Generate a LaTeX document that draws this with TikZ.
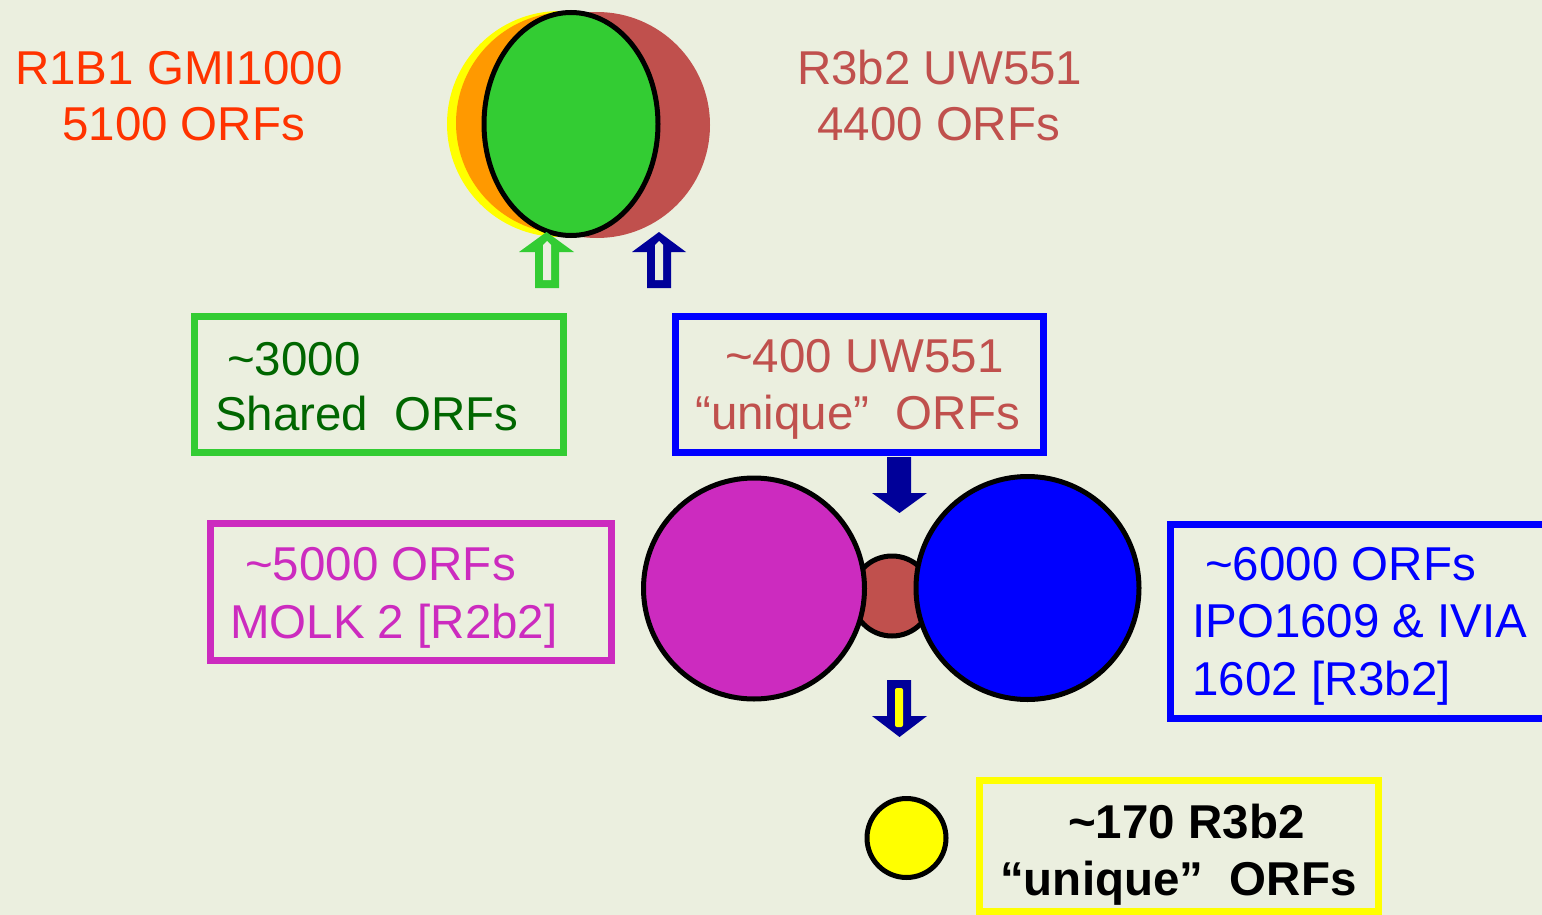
\documentclass[tikz,border=0pt]{standalone}
\usepackage{fontspec}
\setmainfont{Liberation Sans}
\usetikzlibrary{shapes.geometric}
\definecolor{bg}{RGB}{235,239,223}
\definecolor{orangered}{RGB}{255,51,0}
\definecolor{brick}{RGB}{192,80,77}
\definecolor{lgreen}{RGB}{51,204,51}
\definecolor{dgreen}{RGB}{0,102,0}
\definecolor{navy}{RGB}{0,0,153}
\definecolor{magentaF}{RGB}{204,43,191}
\definecolor{orangeF}{RGB}{255,153,0}
\definecolor{yel}{RGB}{255,255,0}
\definecolor{blu}{RGB}{0,0,255}
\begin{document}
\begin{tikzpicture}[x=1pt,y=-1pt,
  lbl/.style={font=\fontsize{47.5}{56}\selectfont, inner sep=0pt, anchor=base west},
  frame/.style={line width=7pt, inner sep=0pt, fill=none},
  ring/.style={circle, draw=black, line width=5pt, inner sep=0pt}]
\useasboundingbox (0,0) rectangle (1542,915);
\fill[bg] (0,0) rectangle (1542,915);
\clip (0,0) rectangle (1542,915);

% top overlapping circles
\fill[yel] (560,124) circle[radius=113pt];
\fill[orangeF] (567,123) circle[radius=111pt];
\fill[brick] (597,125) circle[radius=113pt];
\node[ellipse, draw=black, line width=5pt, fill=lgreen, minimum width=174pt, minimum height=223pt, inner sep=0pt] (shared) at (571,124) {};

% top labels
\node[lbl, text=orangered] (gmiA) at (15,85) {R1B1 GMI1000};
\node[lbl, text=orangered] (gmiB) at (62,141) {5100 ORFs};
\node[lbl, text=brick] (uwA) at (797,85) {R3b2 UW551};
\node[lbl, text=brick] (uwB) at (817,141) {4400 ORFs};

% hollow up arrows
\fill[lgreen] (546.5,232) -- (574,252) -- (559,252) -- (559,288) -- (535,288) -- (535,252) -- (519,252) -- cycle;
\fill[bg] (543,280) -- (543,245) -- (547,241) -- (551,245) -- (551,280) -- cycle;
\fill[navy] (659,232) -- (686,252) -- (671,252) -- (671,288) -- (647,288) -- (647,252) -- (632,252) -- cycle;
\fill[bg] (655,280) -- (655,245) -- (659,241) -- (663,245) -- (663,280) -- cycle;

% boxes
\node[frame, draw=lgreen, minimum width=369pt, minimum height=136pt] (boxshared) at (379,384.5) {};
\node[frame, draw=blu, minimum width=368pt, minimum height=136pt] (boxuw) at (859.5,384.5) {};
\node[frame, draw=magentaF, minimum width=401pt, minimum height=137pt] (boxmolk) at (411,592) {};
\node[frame, draw=blu, minimum width=429pt, minimum height=194pt] (boxipo) at (1385,621.5) {};
\node[frame, draw=yel, minimum width=399pt, minimum height=131pt] (boxuniq) at (1179,846) {};

% box texts
\node[lbl, text=dgreen] (tshA) at (227,375) {\textasciitilde 3000};
\node[lbl, text=dgreen] (tshB) at (215,430) {Shared\ \ ORFs};
\node[lbl, text=brick] (tuwA) at (725,372) {\textasciitilde 400 UW551};
\node[lbl, text=brick] (tuwB) at (695,429) {“unique”\ \ ORFs};
\node[lbl, text=magentaF] (tmoA) at (245,580) {\textasciitilde 5000 ORFs};
\node[lbl, text=magentaF] (tmoB) at (230,638) {MOLK 2 [R2b2]};
\node[lbl, text=blu] (tipA) at (1205,580) {\textasciitilde 6000 ORFs};
\node[lbl, text=blu] (tipB) at (1192,637) {IPO1609 \& IVIA};
\node[lbl, text=blu] (tipC) at (1192,695) {1602 [R3b2]};
\node[lbl, text=black, font=\fontsize{47.5}{56}\selectfont\bfseries] (tunA) at (1068,838) {\textasciitilde 170 R3b2};
\node[lbl, text=black, font=\fontsize{47.5}{56}\selectfont\bfseries] (tunB) at (1000,895) {“unique”\ \ ORFs};

% middle circles
\node[ring, fill=brick, minimum size=80pt] (overlap) at (892,596) {};
\node[ring, fill=magentaF, minimum size=221pt] (molk) at (754,588.5) {};
\node[ring, fill=blu, minimum size=223pt] (ipo) at (1027.5,588) {};
\node[ring, fill=yel, minimum size=79pt] (uniq) at (906.5,838) {};

% down arrows
\fill[navy] (887,457) -- (911,457) -- (911,493) -- (927,493) -- (899.5,513) -- (872,493) -- (887,493) -- cycle;
\fill[navy] (887,680) -- (911,680) -- (911,716) -- (927,716) -- (899.5,737) -- (872,716) -- (887,716) -- cycle;
\fill[yel, rounded corners=2pt] (895,688) -- (903,688) -- (903,727) -- (895,727) -- cycle;
\end{tikzpicture}
\end{document}
